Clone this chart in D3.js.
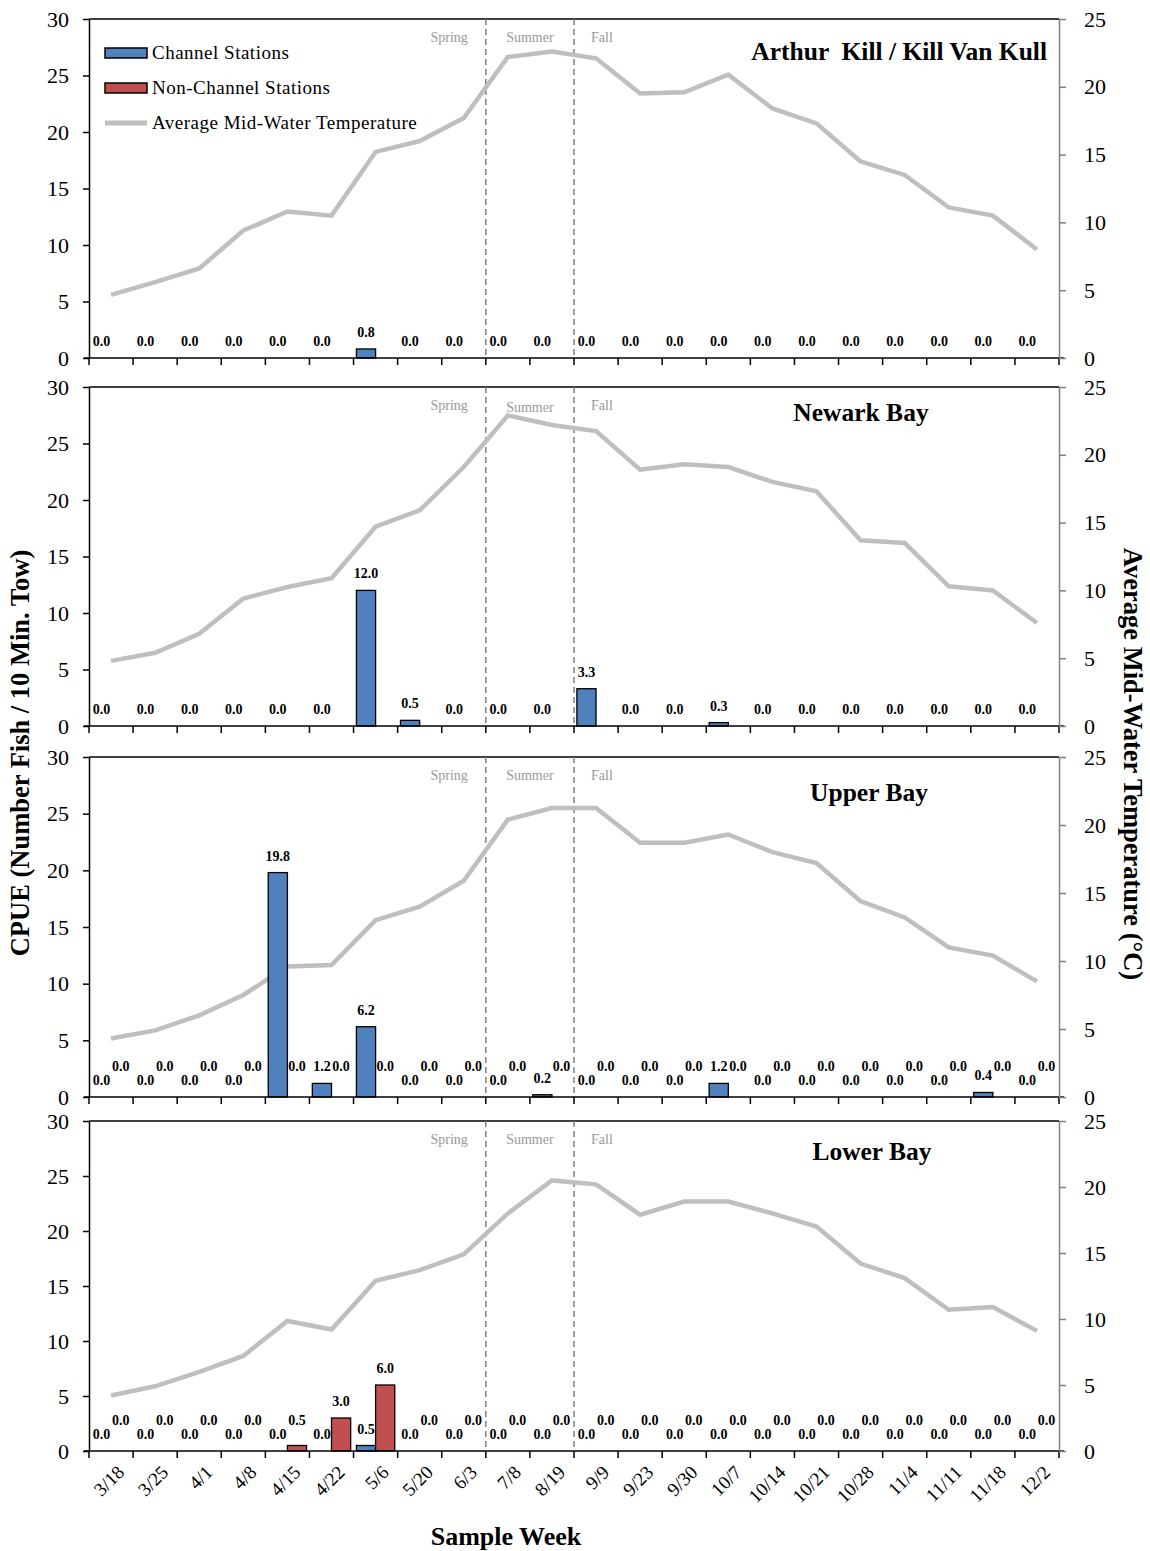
<!DOCTYPE html>
<html><head><meta charset="utf-8">
<script src="https://cdn.jsdelivr.net/npm/d3@7"></script>
<style>body{margin:0;background:#fff;} svg{display:block;font-family:"Liberation Serif","Times New Roman",serif;}</style>
</head><body>
<svg id="chart" width="1150" height="1551"></svg>
<script>
const weeks = ["3/18","3/25","4/1","4/8","4/15","4/22","5/6","5/20","6/3","7/8","8/19","9/9","9/23","9/30","10/7","10/14","10/21","10/28","11/4","11/11","11/18","12/2"];
const panelNames = ["Arthur  Kill / Kill Van Kull","Newark Bay","Upper Bay","Lower Bay"];
const seasonNames = ["Spring","Summer","Fall"];
const seriesNames = ["Channel Stations","Non-Channel Stations","Average Mid-Water Temperature"];
const cpueTicks = [0,5,10,15,20,25,30];
const tempTicks = [0,5,10,15,20,25];

// CPUE – channel stations
const channelAK = [0,0,0,0,0,0,0.8,0,0,0,0,0,0,0,0,0,0,0,0,0,0,0];
const channelNB = [0,0,0,0,0,0,12.0,0.5,0,0,0,3.3,0,0,0.3,0,0,0,0,0,0,0];
const channelUB = [0,0,0,0,19.8,1.2,6.2,0,0,0,0.2,0,0,0,1.2,0,0,0,0,0,0.4,0];
const channelLB = [0,0,0,0,0,0,0.5,0,0,0,0,0,0,0,0,0,0,0,0,0,0,0];
// CPUE – non-channel stations (none sampled in AK and NB)
const nonChannelAK = null;
const nonChannelNB = null;
const nonChannelUB = [0,0,0,0,0,0,0,0,0,0,0,0,0,0,0,0,0,0,0,0,0,0];
const nonChannelLB = [0,0,0,0,0.5,3.0,6.0,0,0,0,0,0,0,0,0,0,0,0,0,0,0,0];
// Average mid-water temperature (°C)
const tempAK = [4.65,5.6,6.6,9.4,10.8,10.5,15.2,16.0,17.7,22.2,22.6,22.1,19.5,19.6,20.9,18.4,17.3,14.5,13.5,11.1,10.5,8.0];
const tempNB = [4.8,5.4,6.8,9.4,10.25,10.9,14.7,15.9,19.1,22.9,22.2,21.75,18.9,19.3,19.1,18.0,17.3,13.7,13.5,10.3,10.0,7.6];
const tempUB = [4.3,4.9,6.0,7.5,9.6,9.7,13.0,14.0,15.9,20.4,21.25,21.25,18.7,18.7,19.3,18.0,17.2,14.4,13.2,11.0,10.4,8.5];
const tempLB = [4.2,4.9,6.0,7.2,9.85,9.2,12.9,13.7,14.9,18.0,20.5,20.2,17.9,18.9,18.9,18.0,17.0,14.2,13.1,10.7,10.9,9.1];

const channel = [channelAK, channelNB, channelUB, channelLB];
const nonChannel = [nonChannelAK, nonChannelNB, nonChannelUB, nonChannelLB];
const temps = [tempAK, tempNB, tempUB, tempLB];

// layout
const panelTops = [19, 387, 757, 1121];
const panelBottoms = [358, 726, 1097, 1451];
const titleLayout = [{x:1047, anchor:"end", dy:41}, {x:861, anchor:"middle", dy:34}, {x:869, anchor:"middle", dy:44}, {x:872, anchor:"middle", dy:39}];
const L = 89, R = 1059;
const blue = "#4f81bd", red = "#c0504d", grey = "#bfbfbf";

const svg = d3.select("#chart");
const x = d3.scaleBand().domain(weeks).range([L, R]).paddingInner(0).paddingOuter(0);
const bw = x.bandwidth();
const sub = d3.scaleBand().domain(["ch","nc"]).range([0, bw]).paddingInner(0).paddingOuter(0.15);

const boundaries = weeks.map(w => x(w)).concat([R]);
const dash1 = x("7/8"), dash2 = x("9/9");

panelTops.forEach((top, p) => {
  const bottom = panelBottoms[p];
  const yL = d3.scaleLinear().domain([0, 30]).range([bottom, top]);
  const yR = d3.scaleLinear().domain([0, 25]).range([bottom, top]);
  const g = svg.append("g");

  g.append("line").attr("x1", L).attr("x2", R).attr("y1", top).attr("y2", top).attr("stroke", "#000").attr("stroke-width", 1.5);

  [dash1, dash2].forEach(dx => {
    g.append("line").attr("x1", dx).attr("x2", dx).attr("y1", top).attr("y2", bottom)
      .attr("stroke", "#808080").attr("stroke-width", 1.5).attr("stroke-dasharray", "6,4");
  });
  const sy = top + 23;
  g.append("text").attr("x", dash1 - 18).attr("y", sy).attr("text-anchor", "end").attr("fill", "#999").attr("font-size", 14).text(seasonNames[0]);
  g.append("text").attr("x", (dash1 + dash2) / 2).attr("y", sy + (p === 1 ? 2 : 0)).attr("text-anchor", "middle").attr("fill", "#999").attr("font-size", 14).text(seasonNames[1]);
  g.append("text").attr("x", dash2 + 17).attr("y", sy).attr("text-anchor", "start").attr("fill", "#999").attr("font-size", 14).text(seasonNames[2]);

  const line = d3.line().x((d, i) => x(weeks[i]) + bw / 2).y(d => yR(d));
  g.append("path").datum(temps[p]).attr("d", line).attr("fill", "none").attr("stroke", grey).attr("stroke-width", 4.5).attr("stroke-linejoin", "miter");

  const ch = channel[p].map((v, i) => ({w: weeks[i], v}));
  g.selectAll(".ch").data(ch).enter().filter(d => d.v > 0).append("rect")
    .attr("x", d => x(d.w) + sub("ch")).attr("width", sub.bandwidth())
    .attr("y", d => yL(d.v)).attr("height", d => yL(0) - yL(d.v))
    .attr("fill", blue).attr("stroke", "#000").attr("stroke-width", 1.3);
  if (nonChannel[p]) {
    const nc = nonChannel[p].map((v, i) => ({w: weeks[i], v}));
    g.selectAll(".nc").data(nc).enter().filter(d => d.v > 0).append("rect")
      .attr("x", d => x(d.w) + sub("nc")).attr("width", sub.bandwidth())
      .attr("y", d => yL(d.v)).attr("height", d => yL(0) - yL(d.v))
      .attr("fill", red).attr("stroke", "#000").attr("stroke-width", 1.3);
    g.selectAll(".ncl").data(nc).enter().append("text")
      .attr("x", d => x(d.w) + sub("nc") + sub.bandwidth() / 2)
      .attr("y", d => Math.min(yL(d.v) - 12, yL(0) - 26))
      .attr("text-anchor", "middle").attr("font-weight", "bold").attr("font-size", 14)
      .text(d => d.v.toFixed(1));
  }
  g.selectAll(".chl").data(ch).enter().append("text")
    .attr("x", d => x(d.w) + sub("ch") + sub.bandwidth() / 2)
    .attr("y", d => yL(d.v) - 12)
    .attr("text-anchor", "middle").attr("font-weight", "bold").attr("font-size", 14)
    .text(d => d.v.toFixed(1));

  g.append("line").attr("x1", L - 5).attr("x2", R + 5).attr("y1", bottom).attr("y2", bottom).attr("stroke", "#000").attr("stroke-width", 1.5);
  g.selectAll(".xt").data(boundaries).enter().append("line")
    .attr("x1", d => d).attr("x2", d => d).attr("y1", bottom).attr("y2", bottom + 7)
    .attr("stroke", "#000").attr("stroke-width", 1.5);

  const la = g.append("g").attr("transform", `translate(${L},0)`)
    .call(d3.axisLeft(yL).tickValues(cpueTicks).tickSize(6).tickPadding(14).tickSizeOuter(0));
  la.select(".domain").attr("stroke", "#000").attr("stroke-width", 1.5);
  la.selectAll(".tick line").attr("stroke", "#000").attr("stroke-width", 1.5);
  la.selectAll("text").attr("font-size", 22).attr("font-family", "Liberation Serif").attr("fill", "#000");

  const ra = g.append("g").attr("transform", `translate(${R},0)`)
    .call(d3.axisRight(yR).tickValues(tempTicks).tickSize(7).tickPadding(18).tickSizeOuter(0));
  ra.select(".domain").attr("stroke", "#808080").attr("stroke-width", 1.5);
  ra.selectAll(".tick line").attr("stroke", "#808080").attr("stroke-width", 1.5);
  ra.selectAll("text").attr("font-size", 22).attr("font-family", "Liberation Serif").attr("fill", "#000");

  const tl = titleLayout[p];
  g.append("text").attr("x", tl.x).attr("y", top + tl.dy).attr("text-anchor", tl.anchor)
    .attr("font-weight", "bold").attr("font-size", 25.5).style("white-space", "pre").text(panelNames[p]);
});

// legend (first panel)
const lg = svg.append("g");
const legY = [53, 88, 123];
lg.append("rect").attr("x", 105).attr("y", legY[0] - 5).attr("width", 42).attr("height", 10).attr("fill", blue).attr("stroke", "#000").attr("stroke-width", 1.5);
lg.append("rect").attr("x", 105).attr("y", legY[1] - 5).attr("width", 42).attr("height", 10).attr("fill", red).attr("stroke", "#000").attr("stroke-width", 1.5);
lg.append("line").attr("x1", 105).attr("x2", 147).attr("y1", legY[2]).attr("y2", legY[2]).attr("stroke", grey).attr("stroke-width", 5);
seriesNames.forEach((n, i) => {
  lg.append("text").attr("x", 152).attr("y", legY[i] + 6).attr("font-size", 19).attr("letter-spacing", 0.5).text(n);
});

// x tick labels
const bottom = panelBottoms[3];
svg.selectAll(".xl").data(weeks).enter().append("text")
  .attr("transform", d => `translate(${x(d) + bw / 2 + 5},${bottom + 13}) rotate(-45)`)
  .attr("text-anchor", "end").attr("font-size", 19).attr("dy", "0.7em").text(d => d);

// axis titles
svg.append("text").attr("x", 506).attr("y", 1545).attr("text-anchor", "middle").attr("font-weight", "bold").attr("font-size", 26).text("Sample Week");
svg.append("text").attr("transform", "translate(29,753) rotate(-90)").attr("text-anchor", "middle").attr("font-weight", "bold").attr("font-size", 26.5).text("CPUE (Number Fish / 10 Min. Tow)");
svg.append("text").attr("transform", "translate(1124,764) rotate(90)").attr("text-anchor", "middle").attr("font-weight", "bold").attr("font-size", 26.5).text("Average Mid-Water Temperature (°C)");
</script>
</body></html>
